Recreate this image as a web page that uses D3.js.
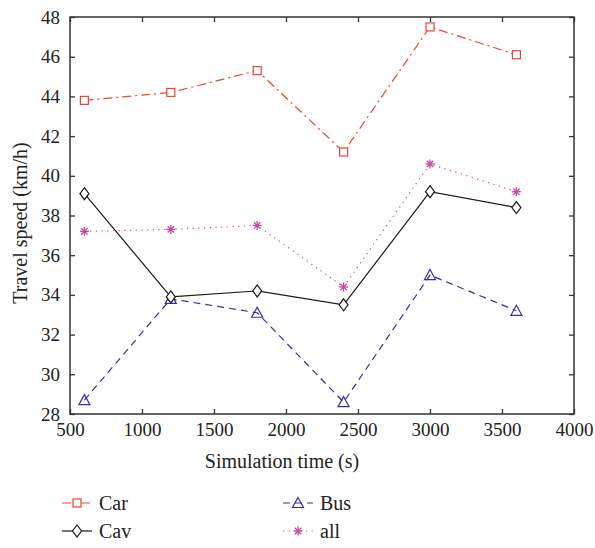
<!DOCTYPE html>
<html>
<head>
<meta charset="utf-8">
<script src="https://cdn.jsdelivr.net/npm/d3@7"></script>
<style>
  body { margin: 0; background: #fff; }
</style>
</head>
<body>
<script>
// chart values
const times = [600, 1200, 1800, 2400, 3000, 3600]
const carSpeed = [43.8, 44.2, 45.3, 41.2, 47.5, 46.1]
const busSpeed = [28.7, 33.8, 33.1, 28.6, 35.0, 33.2]
const cavSpeed = [39.1, 33.9, 34.2, 33.5, 39.2, 38.4]
const allSpeed = [37.2, 37.3, 37.5, 34.4, 40.6, 39.2]
const xTicks = [500, 1000, 1500, 2000, 2500, 3000, 3500, 4000]
const yTicks = [28, 30, 32, 34, 36, 38, 40, 42, 44, 46, 48]

const width = 595, height = 548
const margin = { top: 17, right: 21, bottom: 134, left: 70 }
const serif = '"Liberation Serif", "Times New Roman", "DejaVu Serif", serif'

const svg = d3.select('body').append('svg')
    .attr('width', width)
    .attr('height', height)

const xScale = d3.scaleLinear()
    .domain([500, 4000])
    .range([margin.left, width - margin.right])

const yScale = d3.scaleLinear()
    .domain([28, 48])
    .range([height - margin.bottom, margin.top])

const series = [
    { name: 'Car', values: carSpeed, color: '#ec4530', dash: '9,4,2,4', marker: 'square' },
    { name: 'Bus', values: busSpeed, color: '#3b2f9e', dash: '7,5', marker: 'triangle' },
    { name: 'Cav', values: cavSpeed, color: '#1a1a1a', dash: null, marker: 'diamond' },
    { name: 'all', values: allSpeed, color: '#c4489f', dash: '1.2,4.5', marker: 'star' }
]

// axes, ticks pointing inwards on all four sides
const tickLen = 5
const styleAxis = g => {
    g.attr('font-family', serif)
    g.select('.domain').remove()
    g.selectAll('.tick line').attr('stroke', '#333').attr('stroke-width', 1.3)
    g.selectAll('.tick text')
        .style('font-family', serif)
        .style('font-size', '19px')
        .attr('fill', '#222')
}
svg.append('g')
    .attr('transform', 'translate(0,' + (height - margin.bottom) + ')')
    .call(d3.axisBottom(xScale).tickValues(xTicks).tickSize(-tickLen).tickPadding(9).tickFormat(d3.format('d')))
    .call(styleAxis)
svg.append('g')
    .attr('transform', 'translate(0,' + margin.top + ')')
    .call(d3.axisTop(xScale).tickValues(xTicks).tickSize(-tickLen).tickFormat(''))
    .call(styleAxis)
svg.append('g')
    .attr('transform', 'translate(' + margin.left + ',0)')
    .call(d3.axisLeft(yScale).tickValues(yTicks).tickSize(-tickLen).tickPadding(10).tickFormat(d3.format('d')))
    .call(styleAxis)
svg.append('g')
    .attr('transform', 'translate(' + (width - margin.right) + ',0)')
    .call(d3.axisRight(yScale).tickValues(yTicks).tickSize(-tickLen).tickFormat(''))
    .call(styleAxis)

// frame
svg.append('rect')
    .attr('x', margin.left)
    .attr('y', margin.top)
    .attr('width', width - margin.left - margin.right)
    .attr('height', height - margin.top - margin.bottom)
    .attr('fill', 'none')
    .attr('stroke', '#333')
    .attr('stroke-width', 1.5)

// axis titles
svg.append('text')
    .attr('x', 282)
    .attr('y', height - margin.bottom + 54)
    .attr('text-anchor', 'middle')
    .style('font-family', serif)
    .style('font-size', '20px')
    .attr('fill', '#222')
    .text('Simulation time (s)')
svg.append('text')
    .attr('transform', 'translate(27,223) rotate(-90)')
    .attr('text-anchor', 'middle')
    .style('font-family', serif)
    .style('font-size', '20px')
    .attr('fill', '#222')
    .text('Travel speed (km/h)')

// marker shapes
function drawMarker(g, type, color) {
    if (type == 'square') {
        g.append('rect').attr('x', -4).attr('y', -4).attr('width', 8).attr('height', 8)
            .attr('fill', '#fff').attr('stroke', color).attr('stroke-width', 1.2)
    } else if (type == 'diamond') {
        g.append('path').attr('d', 'M0,-6L4.5,0L0,6L-4.5,0Z')
            .attr('fill', '#fff').attr('stroke', color).attr('stroke-width', 1.2)
    } else if (type == 'triangle') {
        g.append('path').attr('d', 'M0,-5.5L5.5,4.5L-5.5,4.5Z')
            .attr('fill', 'none').attr('stroke', color).attr('stroke-width', 1.2)
    } else if (type == 'star') {
        for (let a = 0; a < 180; a += 45) {
            const r = 4.5, t = a * Math.PI / 180
            g.append('line')
                .attr('x1', -r * Math.cos(t)).attr('y1', -r * Math.sin(t))
                .attr('x2', r * Math.cos(t)).attr('y2', r * Math.sin(t))
                .attr('stroke', color).attr('stroke-width', 1.3)
        }
    }
}

const line = d3.line()
    .x((d, i) => xScale(times[i]))
    .y(d => yScale(d))

series.forEach(s => {
    svg.append('path')
        .datum(s.values)
        .attr('d', line)
        .attr('fill', 'none')
        .attr('stroke', s.color)
        .attr('stroke-width', 1.2)
        .attr('stroke-dasharray', s.dash)
    s.values.forEach((v, i) => {
        const g = svg.append('g').attr('transform', 'translate(' + xScale(times[i]) + ',' + yScale(v) + ')')
        drawMarker(g, s.marker, s.color)
    })
})

// legend
const legendPos = { Car: [62, 503], Bus: [283, 503], Cav: [62, 531], all: [283, 531] }
series.forEach(s => {
    const [lx, ly] = legendPos[s.name]
    svg.append('line')
        .attr('x1', lx).attr('x2', lx + 30)
        .attr('y1', ly).attr('y2', ly)
        .attr('stroke', s.color)
        .attr('stroke-width', 1.2)
        .attr('stroke-dasharray', s.dash)
    const g = svg.append('g').attr('transform', 'translate(' + (lx + 15) + ',' + ly + ')')
    drawMarker(g, s.marker, s.color)
    svg.append('text')
        .attr('x', lx + 37)
        .attr('y', ly + 7)
        .style('font-family', serif)
        .style('font-size', '20px')
        .attr('fill', '#222')
        .text(s.name)
})
</script>
</body>
</html>
